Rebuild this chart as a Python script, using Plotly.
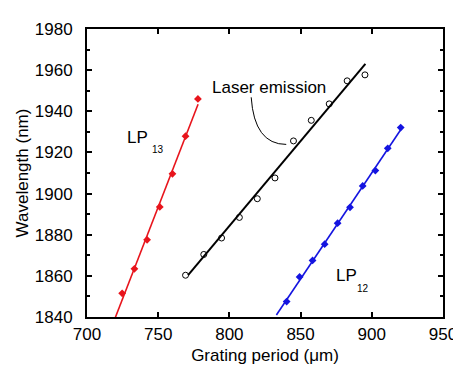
import numpy as np
import plotly.graph_objects as go

# LP13 (red)
lp13_x = [724.7, 733.3, 742.2, 751.1, 760.0, 769.2, 777.9]
lp13_y = [1851.5, 1863.4, 1877.5, 1893.5, 1909.6, 1927.9, 1946.0]
# Laser emission (black open circles)
laser_x = [769.2, 782.0, 794.5, 807.0, 819.6, 832.0, 845.0, 857.5, 870.1, 882.7, 895.2]
laser_y = [1860.3, 1870.4, 1878.4, 1888.4, 1897.5, 1907.6, 1925.6, 1935.6, 1943.6, 1954.8, 1957.7]
# LP12 (blue)
lp12_x = [840.2, 849.3, 858.4, 866.9, 876.0, 884.7, 893.6, 902.5, 911.2, 920.3]
lp12_y = [1847.5, 1859.5, 1867.5, 1875.4, 1885.6, 1893.3, 1903.7, 1911.2, 1922.0, 1932.1]

x_ticks = [700, 750, 800, 850, 900, 950]
y_ticks = [1840, 1860, 1880, 1900, 1920, 1940, 1960, 1980]

FONT = "Liberation Sans, Arial, sans-serif"


def fit_line(xs, ys, x0, x1):
    k, b = np.polyfit(xs, ys, 1)
    xx = np.array([x0, x1])
    return xx, k * xx + b


fig = go.Figure()

series = [
    (lp13_x, lp13_y, "#e8141c", dict(symbol="diamond", size=6, color="#e8141c"), 715, 778, 1.6),
    (laser_x, laser_y, "black", dict(symbol="circle-open", size=6, color="black", line=dict(width=1)), 771, 895.5, 2),
    (lp12_x, lp12_y, "#1414e0", dict(symbol="diamond", size=6, color="#1414e0"), 833, 921, 1.6),
]
for xs, ys, col, mk, x0, x1, lw in series:
    fx, fy = fit_line(xs, ys, x0, x1)
    fig.add_trace(go.Scatter(x=fx, y=fy, mode="lines", line=dict(color=col, width=lw),
                             showlegend=False, hoverinfo="skip"))
    fig.add_trace(go.Scatter(x=xs, y=ys, mode="markers", marker=mk, showlegend=False))

# curved pointer for "Laser emission"
fig.add_shape(type="path", xref="x", yref="y",
              path="M 815.3 1946.8 Q 817.5 1923.9 839.9 1923.9",
              line=dict(color="black", width=1))

ann_font = dict(family=FONT, size=17, color="black")
sub_font = dict(family=FONT, size=10, color="black")
fig.add_annotation(x=827.7, y=1951.7, text="Laser emission", showarrow=False, font=ann_font,
                   xanchor="center", yanchor="middle")
fig.add_annotation(x=735.5, y=1927.3, text="LP", showarrow=False, font=ann_font,
                   xanchor="center", yanchor="middle")
fig.add_annotation(x=750.0, y=1921.6, text="13", showarrow=False, font=sub_font,
                   xanchor="center", yanchor="middle")
fig.add_annotation(x=882.2, y=1860.1, text="LP", showarrow=False, font=ann_font,
                   xanchor="center", yanchor="middle")
fig.add_annotation(x=893.6, y=1854.0, text="12", showarrow=False, font=sub_font,
                   xanchor="center", yanchor="middle")

axis_common = dict(showgrid=False, zeroline=False, showline=True, linecolor="black", linewidth=2,
                   mirror="ticks", ticks="inside", ticklen=5, tickwidth=1.5, tickcolor="black",
                   tickfont=dict(family=FONT, size=17, color="black"))

fig.update_xaxes(range=[700, 950], tickvals=x_ticks, ticktext=[str(v) for v in x_ticks],
                 ticklabelstandoff=1,
                 title=dict(text="Grating period (\u03bcm)", font=dict(family=FONT, size=17, color="black"),
                            standoff=6),
                 **axis_common)
fig.update_yaxes(range=[1840, 1980], tickvals=y_ticks, ticktext=[str(v) for v in y_ticks],
                 ticklabelstandoff=9,
                 minor=dict(dtick=10, ticks="inside", ticklen=3, tickwidth=1.5, tickcolor="black"),
                 title=dict(text="Wavelength (nm)", font=dict(family=FONT, size=17, color="black"),
                            standoff=2),
                 **axis_common)

fig.update_layout(width=461, height=367, margin=dict(l=79, r=17, t=17, b=58),
                  plot_bgcolor="white", paper_bgcolor="white",
                  font=dict(family=FONT, color="black"))

fig.write_html("out.html")
